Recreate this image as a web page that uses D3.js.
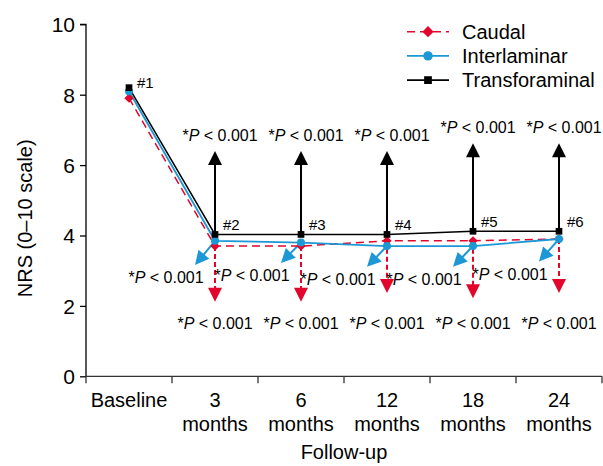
<!DOCTYPE html>
<html><head><meta charset="utf-8">
<script src="https://cdn.jsdelivr.net/npm/d3@7"></script>
<style>
body{margin:0;background:#fff;}
text{font-family:"Liberation Sans",Arial,sans-serif;fill:#000;}
</style></head>
<body><svg id="c" width="603" height="466"></svg>
<script>
const categories = ["Baseline","3 months","6 months","12 months","18 months","24 months"];
const tickLabelLines = [["Baseline"],["3","months"],["6","months"],["12","months"],["18","months"],["24","months"]];
const yTicks = [0,2,4,6,8,10];
const caudal = [7.9,3.7,3.7,3.85,3.85,3.9];
const interlaminar = [8.1,3.85,3.8,3.7,3.7,3.9];
const transforaminal = [8.2,4.03,4.03,4.03,4.12,4.12];
const pointLabels = ["#1","#2","#3","#4","#5","#6"];
// annotation arrow end values (NRS units)
const transArrowTip = [null,6.4,6.4,6.4,6.62,6.62];
const caudalArrowTip = [null,2.12,2.12,2.37,2.22,2.37];
const interArrowTip = [null,3.16,3.22,3.11,3.11,3.26];
const seriesNames = ["Caudal","Interlaminar","Transforaminal"];

const red="#e2062c", blue="#1b98d5", black="#000";
const svg=d3.select("#c");
const x=d3.scaleBand().domain(categories).range([86,602]);
const y=d3.scaleLinear().domain([0,10]).range([376.3,24.3]);
const cx=d=>x(d)+x.bandwidth()/2;

// y axis
const ya=svg.append("g").attr("transform","translate(86,0)")
  .call(d3.axisLeft(y).tickValues(yTicks).tickSize(6).tickPadding(5).tickFormat(d3.format("d")));
ya.select(".domain").attr("stroke","#000").attr("stroke-width",1.3).attr("d","M-6,"+y(10)+"H0V"+y(0));
ya.selectAll(".tick line").attr("stroke","#000").attr("stroke-width",1.3);
ya.selectAll(".tick text").style("font-size","21px").attr("dy","0.35em");

// x axis
const xa=svg.append("g").attr("transform","translate(0,"+y(0)+")")
  .call(d3.axisBottom(x).tickSize(0).tickPadding(0).tickFormat(""));
xa.select(".domain").attr("stroke","#333").attr("stroke-width",1.3).attr("d","M86,0H602");
const edges=categories.map(c=>x(c)).concat([x.range()[1]]);
xa.selectAll("line.edge").data(edges).join("line").attr("class","edge")
  .attr("x1",d=>d).attr("x2",d=>d).attr("y1",0).attr("y2",7).attr("stroke","#333").attr("stroke-width",1.3);
xa.selectAll(".tick text").each(function(d,i){
  const t=d3.select(this).text(null).attr("dy",null).attr("y",0).style("font-size","20px");
  tickLabelLines[i].forEach((s,j)=>t.append("tspan").attr("x",0).attr("y",31+j*24).text(s));
});
svg.append("text").attr("x",344).attr("y",459).attr("text-anchor","middle").style("font-size","20px").text("Follow-up");
svg.append("text").attr("transform","translate(32,"+(y(5)+18)+") rotate(-90)").attr("text-anchor","middle")
  .style("font-size","20px").text("NRS (0\u201310 scale)");

function pText(sel){
  sel.append("tspan").text("*");
  sel.append("tspan").style("font-style","italic").text("P");
  sel.append("tspan").text(" < 0.001");
}
function head(g,tx,ty,ang,color,len=14,w=14){
  const ux=Math.cos(ang),uy=Math.sin(ang);
  const bx=tx-ux*len,by=ty-uy*len;
  const px=-uy*w/2,py=ux*w/2;
  g.append("path").attr("d",`M${tx},${ty}L${bx+px},${by+py}L${bx-px},${by-py}Z`).attr("fill",color);
}
const ann=svg.append("g");
// black up arrows
categories.forEach((c,i)=>{
  if(transArrowTip[i]==null) return;
  const px=cx(c), py=y(transforaminal[i]), ty=y(transArrowTip[i]);
  ann.append("line").attr("x1",px).attr("x2",px).attr("y1",py).attr("y2",ty+12).attr("stroke",black).attr("stroke-width",2);
  head(ann,px,ty,-Math.PI/2,black);
  ann.append("text").attr("x",px+5).attr("y",ty-10).attr("text-anchor","middle").style("font-size","16px").call(pText);
});
// red down arrows
categories.forEach((c,i)=>{
  if(caudalArrowTip[i]==null) return;
  const px=cx(c), py=y(caudal[i]), ty=y(caudalArrowTip[i]);
  ann.append("line").attr("x1",px).attr("x2",px).attr("y1",py).attr("y2",ty-12).attr("stroke",red).attr("stroke-width",2).attr("stroke-dasharray","5,3");
  head(ann,px,ty,Math.PI/2,red);
  ann.append("text").attr("x",px).attr("y",y(1.34)).attr("text-anchor","middle").style("font-size","16px").call(pText);
});
// blue diagonal arrows
categories.forEach((c,i)=>{
  if(interArrowTip[i]==null) return;
  const px=cx(c), py=y(interlaminar[i]), ty=y(interArrowTip[i]), tx=px-20;
  const ang=Math.atan2(ty-py,tx-px);
  ann.append("line").attr("x1",px).attr("y1",py).attr("x2",tx-Math.cos(ang)*12).attr("y2",ty-Math.sin(ang)*12).attr("stroke",blue).attr("stroke-width",2);
  head(ann,tx,ty,ang,blue);
  ann.append("text").attr("x",tx-29).attr("y",ty+18).attr("text-anchor","middle").style("font-size","16px").call(pText);
});

// series lines
const line=d3.line().x((d,i)=>cx(categories[i])).y(d=>y(d));
svg.append("path").datum(caudal).attr("d",line).attr("fill","none").attr("stroke",red).attr("stroke-width",1.5).attr("stroke-dasharray","8,5");
svg.append("path").datum(interlaminar).attr("d",line).attr("fill","none").attr("stroke",blue).attr("stroke-width",1.8);
svg.append("path").datum(transforaminal).attr("d",line).attr("fill","none").attr("stroke",black).attr("stroke-width",1.5);

const diamond=d3.symbol().type(d3.symbolDiamond2).size(55);
const circle=d3.symbol().type(d3.symbolCircle).size(50);
const square=d3.symbol().type(d3.symbolSquare).size(45);
svg.append("g").selectAll("path").data(caudal).join("path").attr("transform",(d,i)=>`translate(${cx(categories[i])},${y(d)})`).attr("d",diamond).attr("fill",red);
svg.append("g").selectAll("path").data(interlaminar).join("path").attr("transform",(d,i)=>`translate(${cx(categories[i])},${y(d)})`).attr("d",circle).attr("fill",blue);
svg.append("g").selectAll("path").data(transforaminal).join("path").attr("transform",(d,i)=>`translate(${cx(categories[i])},${y(d)})`).attr("d",square).attr("fill",black);
svg.append("g").selectAll("text").data(transforaminal).join("text")
  .attr("x",(d,i)=>cx(categories[i])+8).attr("y",(d,i)=>y(d)-(i==0?0:4)).style("font-size","15px").text((d,i)=>pointLabels[i]);

// legend
const lg=svg.append("g");
const lColors=[red,blue,black], lSyms=[d3.symbol().type(d3.symbolDiamond2).size(80),d3.symbol().type(d3.symbolCircle).size(70),d3.symbol().type(d3.symbolSquare).size(60)], lDash=["8,5",null,null];
seriesNames.forEach((s,i)=>{
  const ly=31.7+i*24.2;
  lg.append("line").attr("x1",407).attr("x2",449).attr("y1",ly).attr("y2",ly).attr("stroke",lColors[i]).attr("stroke-width",1.6).attr("stroke-dasharray",lDash[i]);
  lg.append("path").attr("transform",`translate(428,${ly})`).attr("d",lSyms[i]).attr("fill",lColors[i]);
  lg.append("text").attr("x",462).attr("y",ly).attr("dy","0.36em").style("font-size","20px").text(s);
});
</script></body></html>
